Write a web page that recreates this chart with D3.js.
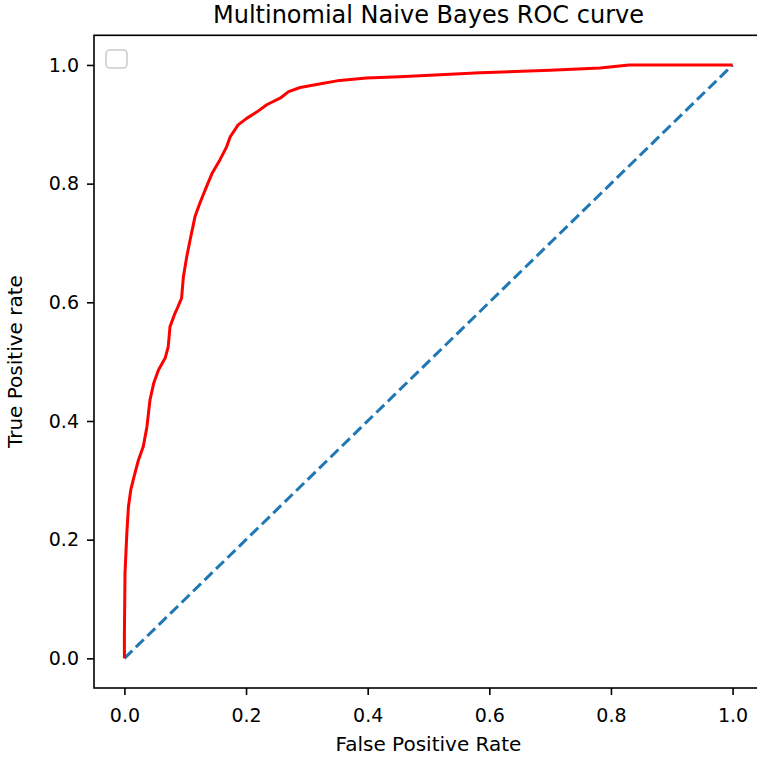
<!DOCTYPE html>
<html>
<head>
<meta charset="utf-8">
<script src="https://cdn.jsdelivr.net/npm/d3@7"></script>
<style>
    body { margin: 0; background: #fff; }
    text { font-family: "DejaVu Sans", sans-serif; fill: #000; }
</style>
</head>
<body>
<svg id="chart" width="757" height="758"></svg>
<script>
// ROC curve (false positive rate, true positive rate)
var fpr = [0, 0, 0.001, 0.004, 0.0066, 0.0105, 0.015, 0.023, 0.031, 0.037, 0.042, 0.048,
    0.056, 0.067, 0.072, 0.075, 0.083, 0.087, 0.094, 0.097, 0.1025, 0.108, 0.116, 0.124,
    0.135, 0.144, 0.157, 0.168, 0.174, 0.187, 0.201, 0.218, 0.234, 0.256, 0.27, 0.289,
    0.316, 0.354, 0.398, 0.453, 0.585, 0.70, 0.782, 0.83, 1.0];
var tpr = [0, 0.043, 0.144, 0.211, 0.255, 0.284, 0.303, 0.334, 0.357, 0.39, 0.435, 0.463,
    0.486, 0.506, 0.525, 0.559, 0.581, 0.59, 0.607, 0.643, 0.677, 0.705, 0.744, 0.767,
    0.795, 0.817, 0.84, 0.862, 0.879, 0.899, 0.91, 0.921, 0.933, 0.944, 0.955, 0.962,
    0.967, 0.974, 0.978, 0.980, 0.987, 0.991, 0.995, 1.0, 1.0];
var chanceLine = [0, 1];
var tickValues = [0, 0.2, 0.4, 0.6, 0.8, 1.0];

var titleText = "Multinomial Naive Bayes ROC curve";
var xLabel = "False Positive Rate";
var yLabel = "True Positive rate";

var svg = d3.select("#chart");

// plot box (the right spine falls just outside the picture)
var box = { left: 94, right: 763, top: 35.3, bottom: 688 };

var x = d3.scaleLinear().domain([-0.05, 1.05]).range([box.left, box.right]);
var y = d3.scaleLinear().domain([-0.05, 1.05]).range([box.bottom, box.top]);

// Spines
svg.append("rect")
    .attr("x", box.left)
    .attr("y", box.top)
    .attr("width", box.right - box.left)
    .attr("height", box.bottom - box.top)
    .attr("fill", "none")
    .attr("stroke", "#000")
    .attr("stroke-width", 1.6);

// Axes
var xAxis = svg.append("g")
    .attr("transform", "translate(0," + box.bottom + ")")
    .call(d3.axisBottom(x).tickValues(tickValues).tickFormat(d3.format(".1f")).tickSize(7).tickPadding(14));
var yAxis = svg.append("g")
    .attr("transform", "translate(" + box.left + ",0)")
    .call(d3.axisLeft(y).tickValues(tickValues).tickFormat(d3.format(".1f")).tickSize(7).tickPadding(8));

[xAxis, yAxis].forEach(function(ax) {
    ax.select(".domain").remove();
    ax.selectAll(".tick line").attr("stroke", "#000").attr("stroke-width", 1.6);
    ax.selectAll(".tick text")
        .style("font-family", "'DejaVu Sans', sans-serif")
        .style("font-size", "19px")
        .attr("fill", "#000");
});

// Chance diagonal
var line = d3.line()
    .x(function(d) { return x(d[0]); })
    .y(function(d) { return y(d[1]); });

svg.append("path")
    .datum(chanceLine.map(function(v) { return [v, v]; }))
    .attr("d", line)
    .attr("fill", "none")
    .attr("stroke", "#1f77b4")
    .attr("stroke-width", 3)
    .attr("stroke-dasharray", "11,5");

// ROC curve
svg.append("path")
    .datum(fpr.map(function(v, i) { return [v, tpr[i]]; }))
    .attr("d", line)
    .attr("fill", "none")
    .attr("stroke", "#ff0000")
    .attr("stroke-width", 3)
    .attr("stroke-linejoin", "round");

// Empty legend box
svg.append("rect")
    .attr("x", 106)
    .attr("y", 50)
    .attr("width", 21)
    .attr("height", 18)
    .attr("rx", 4)
    .attr("fill", "#fff")
    .attr("stroke", "#cccccc")
    .attr("stroke-width", 1.6);

// Title and labels
svg.append("text")
    .attr("x", (box.left + box.right) / 2)
    .attr("y", 23)
    .attr("text-anchor", "middle")
    .style("font-size", "24px")
    .text(titleText);

svg.append("text")
    .attr("x", (box.left + box.right) / 2)
    .attr("y", 751)
    .attr("text-anchor", "middle")
    .style("font-size", "20px")
    .text(xLabel);

svg.append("text")
    .attr("transform", "translate(22," + (box.top + box.bottom) / 2 + ") rotate(-90)")
    .attr("text-anchor", "middle")
    .style("font-size", "20px")
    .text(yLabel);
</script>
</body>
</html>
